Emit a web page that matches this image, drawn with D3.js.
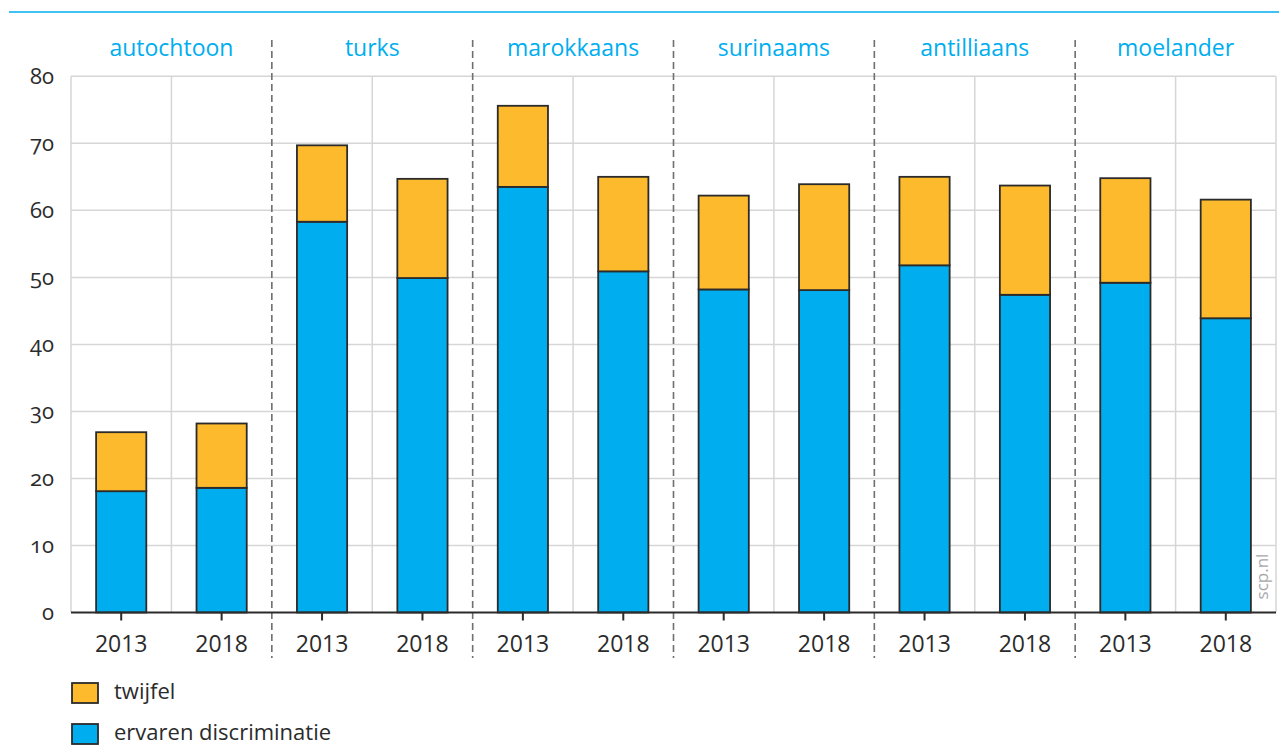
<!DOCTYPE html>
<html>
<head>
<meta charset="utf-8">
<script src="https://cdn.jsdelivr.net/npm/d3@7"></script>
<style>
  html, body { margin: 0; padding: 0; background: #fff; }
  svg { display: block; font-family: "Open Sans", "Noto Sans", sans-serif; }
</style>
</head>
<body>
<svg id="chart" width="1279" height="745"></svg>
<script>
// Herkomstgroepen en jaren
const groups = ["autochtoon", "turks", "marokkaans", "surinaams", "antilliaans", "moelander"];
const years = ["2013", "2018"];

// Percentage ervaren discriminatie, per groep: [2013, 2018]
const ervaren = [
  [18.1, 18.6],
  [58.3, 49.9],
  [63.5, 50.9],
  [48.2, 48.1],
  [51.8, 47.4],
  [49.2, 43.9]
];
// Percentage twijfel (gestapeld bovenop ervaren discriminatie)
const twijfel = [
  [8.8, 9.6],
  [11.4, 14.8],
  [12.1, 14.1],
  [14.0, 15.8],
  [13.2, 16.3],
  [15.6, 17.7]
];

const yTicks = [0, 10, 20, 30, 40, 50, 60, 70, 80];
const seriesNames = ["twijfel", "ervaren discriminatie"];
const colors = { ervaren: "#00aeef", twijfel: "#fdba2d" };

const svg = d3.select("#chart");
const W = 1279;
const x0 = 71, x1 = W - 3;
const yBase = 612.5;

// one row per group/year
const rows = [];
groups.forEach((g, gi) => years.forEach((yr, yi) => {
  rows.push({ key: g + "-" + yr, group: g, year: yr,
              ervaren: ervaren[gi][yi], twijfel: twijfel[gi][yi] });
}));

const x = d3.scaleBand().domain(rows.map(d => d.key)).range([x0, x1])
  .paddingInner(0.5).paddingOuter(0.25);
const xGroup = d3.scaleBand().domain(groups).range([x0, x1]);
const y = d3.scaleLinear().domain([0, 80]).range([yBase, 76.3]);

// top rule
svg.append("line").attr("x1", 9).attr("x2", W).attr("y1", 12).attr("y2", 12)
  .attr("stroke", "#00aeef").attr("stroke-width", 1.6);

// horizontal gridlines
svg.append("g").selectAll("line").data(yTicks.filter(t => t > 0)).join("line")
  .attr("x1", x0).attr("x2", x1)
  .attr("y1", d => y(d)).attr("y2", d => y(d))
  .attr("stroke", "#d6d6d6").attr("stroke-width", 1.5);

// vertical gridlines: left edge, mid-group, right edge
const vGrid = [x0, x1].concat(groups.map(g => xGroup(g) + xGroup.bandwidth() / 2));
svg.append("g").selectAll("line").data(vGrid).join("line")
  .attr("x1", d => d).attr("x2", d => d)
  .attr("y1", y(80)).attr("y2", yBase)
  .attr("stroke", "#d6d6d6").attr("stroke-width", 1.5);

// dashed group separators
svg.append("g").selectAll("line").data(groups.slice(1)).join("line")
  .attr("x1", d => xGroup(d)).attr("x2", d => xGroup(d))
  .attr("y1", 40).attr("y2", 658)
  .attr("stroke", "#6f6f6f").attr("stroke-width", 1.6)
  .attr("stroke-dasharray", "7,4");

// group labels
svg.append("g").selectAll("text").data(groups).join("text")
  .attr("x", d => xGroup(d) + xGroup.bandwidth() / 2)
  .attr("y", 56)
  .attr("text-anchor", "middle")
  .attr("fill", "#00aeef")
  .attr("font-size", 23)
  .text(d => d);

// bars
const barG = svg.append("g");
barG.selectAll("rect.erv").data(rows).join("rect")
  .attr("class", "erv")
  .attr("x", d => x(d.key)).attr("width", x.bandwidth())
  .attr("y", d => y(d.ervaren)).attr("height", d => yBase - y(d.ervaren))
  .attr("fill", colors.ervaren).attr("stroke", "#2b2b2b").attr("stroke-width", 1.8);
barG.selectAll("rect.twi").data(rows).join("rect")
  .attr("class", "twi")
  .attr("x", d => x(d.key)).attr("width", x.bandwidth())
  .attr("y", d => y(d.ervaren + d.twijfel))
  .attr("height", d => y(d.ervaren) - y(d.ervaren + d.twijfel))
  .attr("fill", colors.twijfel).attr("stroke", "#2b2b2b").attr("stroke-width", 1.8);

// baseline
svg.append("line").attr("x1", x0).attr("x2", x1).attr("y1", yBase).attr("y2", yBase)
  .attr("stroke", "#2b2b2b").attr("stroke-width", 2);

// x axis: ticks and year labels
const xAxis = d3.axisBottom(x).tickSize(8).tickPadding(15)
  .tickFormat(k => k.split("-")[1]);
const gx = svg.append("g").attr("transform", `translate(0,${yBase})`).call(xAxis);
gx.select(".domain").remove();
gx.selectAll(".tick line").attr("stroke", "#2b2b2b").attr("stroke-width", 2);
gx.selectAll(".tick text").attr("fill", "#2b2b2b").attr("font-size", 23)
  .attr("font-family", "'Open Sans', sans-serif");

// y axis labels
const yAxis = d3.axisLeft(y).tickValues(yTicks).tickSize(0).tickPadding(17);
const gy = svg.append("g").attr("transform", `translate(${x0},0)`).call(yAxis);
gy.select(".domain").remove();
gy.selectAll(".tick text").attr("fill", "#2b2b2b").attr("font-size", 22)
  .attr("font-family", "'Open Sans', sans-serif")
  .style("font-variant-numeric", "oldstyle-nums");

// source credit
svg.append("text")
  .attr("transform", `translate(1268,${yBase - 36}) rotate(-90)`)
  .attr("text-anchor", "middle")
  .attr("fill", "#a8a8a8").attr("font-size", 17)
  .text("scp.nl");

// legend
const legend = svg.append("g").selectAll("g").data(seriesNames).join("g")
  .attr("transform", (d, i) => `translate(72,${683 + i * 41})`);
legend.append("rect").attr("width", 26).attr("height", 20)
  .attr("fill", (d, i) => i === 0 ? colors.twijfel : colors.ervaren)
  .attr("stroke", "#2b2b2b").attr("stroke-width", 1.8);
legend.append("text").attr("x", 42).attr("y", 16)
  .attr("fill", "#2b2b2b").attr("font-size", 22)
  .text(d => d);
</script>
</body>
</html>
